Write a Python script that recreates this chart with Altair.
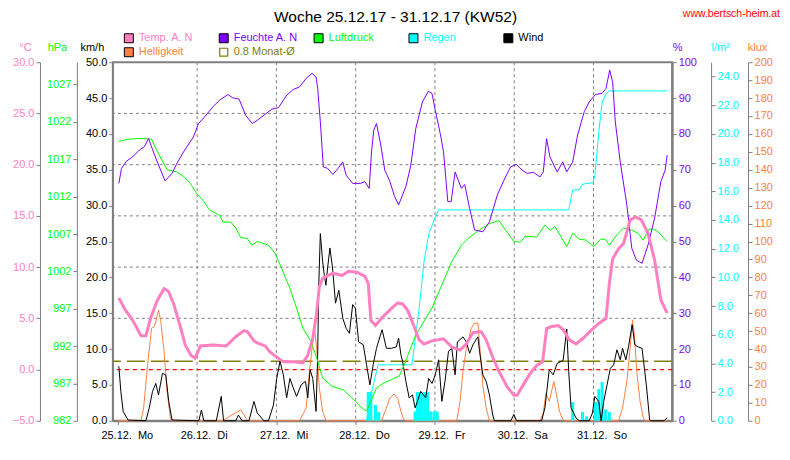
import altair as alt
import pandas as pd

FONT = "Liberation Sans"
GRAY = "#808080"
PINK = "#FF80C0"
PURPLE = "#8000FF"
GREEN = "#00FF00"
CYAN = "#00FFFF"
ORANGE = "#FF8040"
OLIVE = "#808000"
RED = "#FF0000"

TITLE = "Woche 25.12.17 - 31.12.17 (KW52)"
WEBSITE = "www.bertsch-heim.at"

# ---- x axis (hours since 25.12. 00:00) ----
X_END = 166.3
day_ticks = [0, 24, 48, 72, 96, 120, 144]
day_labels = ["25.12.\u00a0\u00a0Mo", "26.12.\u00a0\u00a0Di", "27.12.\u00a0\u00a0Mi", "28.12.\u00a0\u00a0Do",
              "29.12.\u00a0\u00a0Fr", "30.12.\u00a0\u00a0Sa", "31.12.\u00a0\u00a0So"]
day_grid = [24, 48, 72, 96, 120, 144]

# ---- axis tick values ----
temp_ticks = [-5, 0, 5, 10, 15, 20, 25, 30]
temp_grid = [5, 10, 15, 20, 25]
press_ticks = [982, 987, 992, 997, 1002, 1007, 1012, 1017, 1022, 1027]
wind_ticks = [0, 5, 10, 15, 20, 25, 30, 35, 40, 45, 50]
hum_ticks = [0, 10, 20, 30, 40, 50, 60, 70, 80, 90, 100]
rain_ticks = [0, 2, 4, 6, 8, 10, 12, 14, 16, 18, 20, 22, 24]
light_ticks = list(range(0, 201, 10))

frost_line = [0.0]
monat_avg = [0.8]

# ---- Temp. A. N (°C) ----
temp_h = [0.3, 2.1, 4.5, 7.0, 8.5, 10.0, 12.0, 14.0, 15.4, 16.9, 18.9, 20.4, 22.1, 23.4, 25.0, 28.8,
          32.8, 35.7, 38.2, 39.2, 41.2, 42.2, 44.6, 46.1, 50.1, 53.1, 56.0, 57.5, 59.0, 60.2, 61.0, 62.0,
          65.0, 67.9, 69.9, 72.4, 74.8, 75.8, 76.6, 78.0, 79.8, 82.3, 84.7, 86.2, 87.7, 89.7, 91.2, 92.7,
          95.1, 98.6, 101.1, 103.6, 105.5, 107.5, 110.0, 111.5, 113.5, 115.4, 117.9, 119.9, 120.9, 122.9,
          124.8, 126.8, 128.6, 129.8, 131.3, 133.3, 134.8, 136.7, 138.7, 140.7, 143.2, 145.6, 147.8, 148.8,
          149.8, 151.6, 153.1, 155.1, 156.7, 158.5, 160.5, 162.5, 164.4, 166.3]
temp_v = [7.0, 5.9, 4.8, 3.3, 3.3, 5.1, 6.8, 7.9, 7.6, 6.4, 4.2, 2.4, 1.4, 1.1, 2.3, 2.4,
          2.3, 3.2, 3.8, 3.7, 2.8, 2.6, 2.3, 1.7, 0.75, 0.75, 0.65, 1.4, 3.0, 5.6, 8.1, 8.9,
          9.4, 9.2, 9.6, 9.5, 9.1, 8.4, 4.8, 4.3, 5.0, 5.8, 6.5, 6.4, 5.8, 4.2, 2.9, 2.5,
          2.8, 3.0, 2.2, 1.9, 2.5, 3.6, 3.7, 2.9, 1.2, -0.2, -1.7, -2.5, -2.5, -1.4,
          -0.4, 0.4, 0.75, 4.0, 4.2, 4.3, 3.9, 2.9, 2.5, 3.0, 3.8, 4.5, 5.0, 8.4,
          10.8, 11.8, 12.3, 14.6, 14.9, 14.6, 13.3, 10.7, 6.8, 5.5]

# ---- Feuchte A. N (%) ----
hum_h = [0.3, 1.1, 2.6, 4.5, 6.5, 8.0, 9.3, 10.0, 11.5, 14.3, 16.4, 17.9, 19.9, 22.9, 24.4, 26.3,
         28.8, 30.8, 33.3, 34.7, 36.7, 38.7, 40.7, 42.2, 46.6, 48.6, 51.1, 53.1, 55.0, 57.0, 58.8, 60.0,
         60.5, 61.3, 62.2, 63.5, 65.1, 66.7, 68.1, 69.1, 71.1, 73.4, 74.8, 76.1, 76.8, 77.5, 78.3, 79.6,
         80.8, 82.3, 83.8, 85.0, 87.2, 88.7, 90.2, 92.2, 94.0, 95.1, 96.1, 97.6, 98.6, 99.9, 100.9, 102.1,
         104.0, 105.0, 106.5, 108.0, 110.5, 112.5, 114.9, 116.9, 118.9, 120.7, 122.4, 123.9, 125.8, 127.8,
         128.8, 129.8, 130.8, 133.0, 134.7, 135.9, 137.7, 139.2, 141.2, 142.7, 144.6, 146.6, 147.8, 148.9,
         149.8, 150.6, 152.1, 154.1, 155.6, 157.0, 158.7, 160.5, 162.5, 164.4, 165.7, 166.3]
hum_v = [66.2, 70.4, 72.4, 73.6, 75.5, 76.4, 78.7, 76.9, 73.2, 66.9, 69.0, 71.8, 75.0, 79.2, 82.9, 84.8,
         87.6, 89.4, 91.0, 90.1, 89.7, 85.2, 82.9, 83.8, 86.9, 87.3, 90.8, 92.4, 93.1, 95.5, 96.9, 95.9,
         92.7, 83.4, 70.8, 70.4, 68.7, 70.4, 72.2, 68.5, 66.2, 66.2, 66.7, 64.8, 75.0, 81.1, 82.9, 76.9,
         69.9, 66.9, 62.5, 60.2, 65.3, 71.3, 81.5, 88.9, 91.9, 91.3, 86.6, 80.1, 75.0, 61.1, 61.1, 69.4,
         64.8, 65.9, 59.2, 53.2, 52.7, 55.5, 63.0, 67.1, 70.8, 71.5, 69.9, 69.0, 69.3, 68.0,
         69.4, 78.7, 73.6, 69.4, 72.2, 69.4, 72.2, 79.7, 86.2, 88.9, 91.0, 91.3, 92.7, 97.8,
         94.5, 83.4, 72.2, 60.2, 48.1, 44.8, 43.9, 49.0, 56.5, 66.7, 69.9, 74.1]

# ---- Luftdruck (hPa) ----
press_h = [0.3, 3.1, 7.0, 10.2, 12.0, 14.9, 17.9, 19.9, 21.9, 23.9, 25.8, 27.8, 30.8, 31.8, 34.2, 35.7,
           37.2, 39.2, 40.5, 42.2, 45.6, 47.6, 49.1, 52.1, 54.1, 56.0, 58.5, 60.5, 62.0, 65.0, 68.4, 71.9,
           73.9, 75.3, 76.6, 78.3, 80.3, 82.8, 85.2, 86.7, 90.2, 95.1, 98.1, 101.1, 104.0, 106.0, 109.0,
           112.5, 115.4, 116.9, 118.4, 119.9, 121.9, 123.3, 126.8, 129.3, 130.8, 132.3, 134.2, 135.9, 137.7,
           139.7, 141.7, 144.1, 146.1, 147.6, 148.8, 151.1, 153.1, 155.6, 157.5, 159.0, 161.0, 163.0, 164.4,
           166.3]
press_v = [1019.4, 1019.7, 1019.8, 1019.7, 1018.0, 1015.6, 1015.3, 1014.7, 1013.8, 1012.4, 1011.5, 1010.2,
           1009.5, 1008.6, 1008.6, 1007.8, 1006.5, 1006.4, 1005.5, 1006.0, 1005.5, 1004.4, 1002.9, 999.7,
           997.1, 994.4, 992.6, 990.0, 987.7, 986.6, 986.1, 984.6, 983.7, 983.3, 984.6, 986.4, 987.0, 987.5,
           988.0, 989.5, 993.5, 997.1, 1000.2, 1003.3, 1005.5, 1006.4, 1007.4, 1008.4, 1008.8, 1007.8,
           1006.9, 1006.0, 1005.9, 1006.7, 1006.6, 1008.2, 1007.5, 1008.0, 1006.6, 1005.3, 1007.1, 1006.3,
           1006.2, 1005.3, 1006.3, 1006.3, 1005.5, 1006.9, 1007.8, 1007.5, 1007.1, 1006.2, 1007.7, 1007.5,
           1006.9, 1006.0]

# ---- Wind (km/h) ----
wind_h = [0.3, 0.9, 1.6, 3.1, 8.5, 9.5, 10.5, 11.5, 12.3, 13.5, 14.5, 15.4, 16.4, 24.5, 25.3, 26.0,
          29.8, 31.3, 32.0, 35.7, 36.5, 37.6, 39.7, 41.2, 42.2, 44.2, 45.6, 47.1, 48.1, 49.1, 50.1, 51.1,
          52.1, 53.1, 54.1, 55.5, 56.8, 57.5, 58.2, 59.0, 60.0, 60.5, 60.8, 61.3, 62.0, 62.5, 63.0, 63.5,
          64.2, 65.0, 65.9, 66.9, 68.1, 69.1, 70.1, 71.1, 71.9, 72.9, 74.3, 75.3, 76.3, 77.3, 78.3, 80.0,
          81.3, 82.8, 84.3, 85.0, 85.7, 86.2, 87.2, 88.2, 89.2, 90.0, 90.7, 91.7, 93.2, 94.1, 95.1, 96.1,
          97.1, 98.1, 99.1, 100.1, 101.1, 102.1, 102.8, 104.5, 105.5, 106.5, 107.5, 109.0, 109.5, 110.5,
          111.5, 112.5, 113.5, 114.0, 119.0, 119.9, 120.7, 128.3, 129.3, 130.6, 131.8, 133.0, 134.8, 135.9,
          136.5, 137.2, 138.7, 139.7, 142.7, 143.7, 144.4, 145.6, 146.3, 147.1, 148.1, 149.1, 150.1, 151.1,
          152.1, 152.8, 153.8, 154.6, 155.7, 156.5, 157.5, 158.7, 160.0, 161.0, 161.6, 165.4, 166.3]
wind_v = [7.6, 4.1, 1.3, 0.1, 0.0, 1.8, 4.1, 5.2, 3.6, 6.6, 6.4, 2.7, 0.1, 0.0, 1.5, 0.0,
          0.0, 3.4, 0.0, 0.0, 0.8, 0.0, 0.0, 2.7, 1.1, 0.0, 0.0, 2.2, 5.9, 8.3, 6.4, 3.2,
          5.9, 4.6, 3.4, 5.0, 5.5, 3.2, 7.1, 5.9, 1.3, 9.2, 18.5, 26.1, 22.2, 20.3, 18.9, 21.3,
          24.1, 21.3, 16.4, 18.2, 14.3, 12.9, 12.2, 16.2, 15.7, 11.0, 10.6, 7.8, 5.0, 7.8, 10.1, 12.7,
          10.1, 10.1, 10.3, 11.5, 9.2, 8.3, 5.5, 3.2, 3.6, 1.8, 2.7, 4.1, 3.2, 5.9, 5.2, 6.4,
          8.5, 2.7, 5.7, 9.7, 10.1, 6.4, 11.0, 11.7, 11.0, 9.4, 10.6, 11.7, 9.7, 6.4,
          5.5, 3.6, 0.8, 0.0, 0.0, 0.9, 0.0, 0.0, 1.8, 7.1, 6.4, 8.0, 8.4, 12.8,
          6.9, 1.8, 0.4, 0.0, 0.0, 1.1, 3.4, 2.7, 0.0, 2.7, 5.0, 7.3, 7.8, 9.9,
          8.5, 10.1, 8.5, 10.3, 13.4, 10.6, 10.3, 10.1, 5.0, 0.1, 0.0, 0.0, 0.4]

# ---- Helligkeit (klux) ----
light_h = [0.0, 7.0, 7.8, 9.0, 10.2, 11.0, 11.5, 12.3, 13.0, 14.0, 14.9, 15.9, 16.4, 31.8, 33.8, 37.2,
           38.2, 39.2, 55.0, 57.0, 58.0, 58.8, 59.5, 60.2, 61.0, 62.0, 63.0, 79.8, 81.3, 82.3, 83.6, 84.7,
           85.7, 86.5, 87.2, 102.6, 103.6, 104.5, 105.5, 107.0, 108.0, 109.0, 109.8, 110.5, 111.5, 112.5,
           127.8, 128.8, 129.6, 130.6, 132.0, 132.8, 133.7, 134.7, 135.2, 151.6, 152.8, 154.1, 155.1, 155.8,
           156.4, 157.1, 158.1, 159.1, 159.6, 166.3]
light_v = [0.0, 0.0, 7.1, 31.2, 51.6, 52.5, 55.3, 61.8, 55.3, 38.6, 16.3, 1.5, 0.0, 0.0, 2.4, 6.1,
           3.3, 0.0, 0.0, 7.1, 27.5, 40.5, 52.0, 40.5, 18.2, 5.2, 0.0, 0.0, 7.1, 12.6, 14.9, 12.6,
           5.2, 0.8, 0.0, 0.0, 10.8, 27.5, 40.5, 51.6, 54.4, 54.4, 36.8, 20.0, 7.1, 0.0,
           0.0, 4.3, 15.4, 10.8, 21.9, 14.5, 5.2, 0.8, 0.0, 0.0, 7.1, 21.9, 40.5, 56.3,
           47.9, 27.5, 10.8, 1.5, 0.0, 0.0]

# ---- Regen: cumulative (l/m²) ----
rain_h = [75.3, 76.8, 78.8, 89.0, 89.7, 91.2, 92.7, 94.1, 95.9, 97.1, 136.5, 137.7, 139.7, 140.7,
          143.8, 144.4, 145.6, 146.6, 147.8, 148.8, 166.3]
rain_v = [0.0, 2.0, 3.9, 3.9, 5.1, 7.8, 11.1, 13.0, 14.1, 14.7, 14.7, 16.1, 16.1, 16.5,
          16.6, 17.1, 20.1, 22.2, 22.8, 23.0, 23.0]

# ---- Regen: per interval (bars) ----
rainbar_h = [75.8, 76.6, 78.0, 79.0, 90.0, 90.7, 91.4, 92.2, 93.0, 93.8, 94.7, 95.7, 96.7,
             137.7, 140.7, 141.9, 144.6, 145.6, 146.6, 147.6, 148.8]
rainbar_v = [2.0, 2.0, 1.1, 0.6, 0.65, 2.0, 2.0, 2.0, 2.0, 2.0, 0.65, 0.65, 0.65,
             1.3, 0.6, 0.3, 1.3, 2.2, 2.7, 0.8, 0.6]

legend_names = ["Temp. A. N", "Feuchte A. N", "Luftdruck", "Regen", "Wind", "Helligkeit", "0.8 Monat-\u00d8"]
legend_colors = [PINK, PURPLE, GREEN, CYAN, "black", ORANGE, OLIVE]


def frame(h, v):
    return pd.DataFrame({"h": h, "v": v})


label_expr = "[" + ",".join("'%s'" % s for s in day_labels) + "][round(datum.value/24)]"

x_enc = alt.X(
    "h:Q",
    scale=alt.Scale(domain=[0, X_END], nice=False, zero=False),
    axis=alt.Axis(values=day_ticks, labelExpr=label_expr, labelAlign="left", labelOffset=-17,
                  labelColor="black", labelFont=FONT, labelFontSize=11, labelPadding=5,
                  labelFlush=False, labelOverlap=False, labelBound=False,
                  tickColor=GRAY, tickSize=4, domainColor=GRAY, domainWidth=2, grid=False, title=None),
)


def scale(lo, hi):
    return alt.Scale(domain=[lo, hi], nice=False, zero=False)


def yaxis(orient, offset, values, fmt, color, title, tx, dwidth=1):
    return alt.Axis(orient=orient, offset=offset, values=values, format=fmt,
                    labelColor=color, labelFont=FONT, labelFontSize=11, labelPadding=2,
                    labelOverlap=False, labelBound=False, labelFlush=False,
                    tickColor=GRAY, tickSize=4, domainColor=GRAY, domainWidth=dwidth, grid=False,
                    title=title, titleColor=color, titleFont=FONT, titleFontSize=11,
                    titleFontWeight="normal", titleAngle=0, titleAlign="center",
                    titleBaseline="middle", titleX=tx, titleY=-15)


TEMP_S = (-5, 30)
PRESS_S = (982, 1030)
WIND_S = (0, 50)
HUM_S = (0, 100)
RAIN_S = (0, 25)
LIGHT_S = (0, 200)

layers = []

# grid lines
layers.append(alt.Chart(pd.DataFrame({"h": day_grid})).mark_rule(
    color=GRAY, strokeDash=[3, 3], strokeWidth=1).encode(x=x_enc))
layers.append(alt.Chart(pd.DataFrame({"v": temp_grid})).mark_rule(
    color=GRAY, strokeDash=[3, 3], strokeWidth=1).encode(
    y=alt.Y("v:Q", scale=scale(*TEMP_S), axis=None)))
layers.append(alt.Chart(pd.DataFrame({"v": frost_line})).mark_rule(
    color=RED, strokeDash=[4, 4], strokeWidth=1.2).encode(
    y=alt.Y("v:Q", scale=scale(*TEMP_S), axis=None)))
layers.append(alt.Chart(pd.DataFrame({"v": monat_avg})).mark_rule(
    color=OLIVE, strokeDash=[18, 6], strokeWidth=1.5).encode(
    y=alt.Y("v:Q", scale=scale(*TEMP_S), axis=None)))

# Helligkeit
layers.append(alt.Chart(frame(light_h, light_v)).mark_line(color=ORANGE, strokeWidth=1).encode(
    x=x_enc, y=alt.Y("v:Q", scale=scale(*LIGHT_S),
                     axis=yaxis("right", 76, light_ticks, "d", ORANGE, "klux", 9))))
# Regen bars
layers.append(alt.Chart(frame(rainbar_h, rainbar_v)).mark_bar(color=CYAN, size=3).encode(
    x=x_enc, y=alt.Y("v:Q", scale=scale(*RAIN_S), axis=None)))
# Regen cumulative
layers.append(alt.Chart(frame(rain_h, rain_v)).mark_line(color=CYAN, strokeWidth=1).encode(
    x=x_enc, y=alt.Y("v:Q", scale=scale(*RAIN_S),
                     axis=yaxis("right", 39, rain_ticks, ".1f", CYAN, "l/m\u00b2", 9))))
# Wind
layers.append(alt.Chart(frame(wind_h, wind_v)).mark_line(color="black", strokeWidth=1).encode(
    x=x_enc, y=alt.Y("v:Q", scale=scale(*WIND_S),
                     axis=yaxis("left", 0, wind_ticks, ".1f", "black", "km/h", -21))))
# Luftdruck
layers.append(alt.Chart(frame(press_h, press_v)).mark_line(color=GREEN, strokeWidth=1).encode(
    x=x_enc, y=alt.Y("v:Q", scale=scale(*PRESS_S),
                     axis=yaxis("left", 36, press_ticks, "d", GREEN, "hPa", -20))))
# Feuchte
layers.append(alt.Chart(frame(hum_h, hum_v)).mark_line(color=PURPLE, strokeWidth=1).encode(
    x=x_enc, y=alt.Y("v:Q", scale=scale(*HUM_S),
                     axis=yaxis("right", 0, hum_ticks, "d", PURPLE, "%", 5, dwidth=2))))
# Temperatur
layers.append(alt.Chart(frame(temp_h, temp_v)).mark_line(color=PINK, strokeWidth=3).encode(
    x=x_enc, y=alt.Y("v:Q", scale=scale(*TEMP_S),
                     axis=yaxis("left", 73, temp_ticks, ".1f", PINK, "\u00b0C", -15))))

# title and website
layers.append(alt.Chart(pd.DataFrame({"t": [TITLE]})).mark_text(
    font=FONT, fontSize=15.5, color="black", align="center", baseline="alphabetic").encode(
    x=alt.value(283), y=alt.value(-40), text="t:N"))
layers.append(alt.Chart(pd.DataFrame({"t": [WEBSITE]})).mark_text(
    font=FONT, fontSize=10.5, color=RED, align="right", baseline="alphabetic").encode(
    x=alt.value(668), y=alt.value(-45), text="t:N"))

# legend
for i, (name, col) in enumerate(zip(legend_names, legend_colors)):
    cx = 16 + 95 * (i % 5)
    cy = -24 + 14 * (i // 5)
    d = pd.DataFrame({"t": [name]})
    if name.startswith("0.8"):
        sq = alt.Chart(d).mark_square(filled=False, color=col, strokeWidth=1.2, size=64, opacity=1)
    else:
        sq = alt.Chart(d).mark_square(fill=col, stroke="black", strokeWidth=1, size=81, opacity=1)
    layers.append(sq.encode(x=alt.value(cx), y=alt.value(cy)))
    layers.append(alt.Chart(d).mark_text(font=FONT, fontSize=11, color=col, align="left",
                                         baseline="middle").encode(
        x=alt.value(cx + 10), y=alt.value(cy), text="t:N"))

chart = alt.layer(*layers).resolve_scale(y="independent").properties(
    width=560, height=359,
    autosize=alt.AutoSizeParams(type="none"),
    padding={"left": 105, "top": 54, "right": 110, "bottom": 30},
    background="white",
).configure_view(stroke=GRAY, strokeWidth=2)

chart.save("out.html", embed_options={"renderer": "svg", "actions": False})
